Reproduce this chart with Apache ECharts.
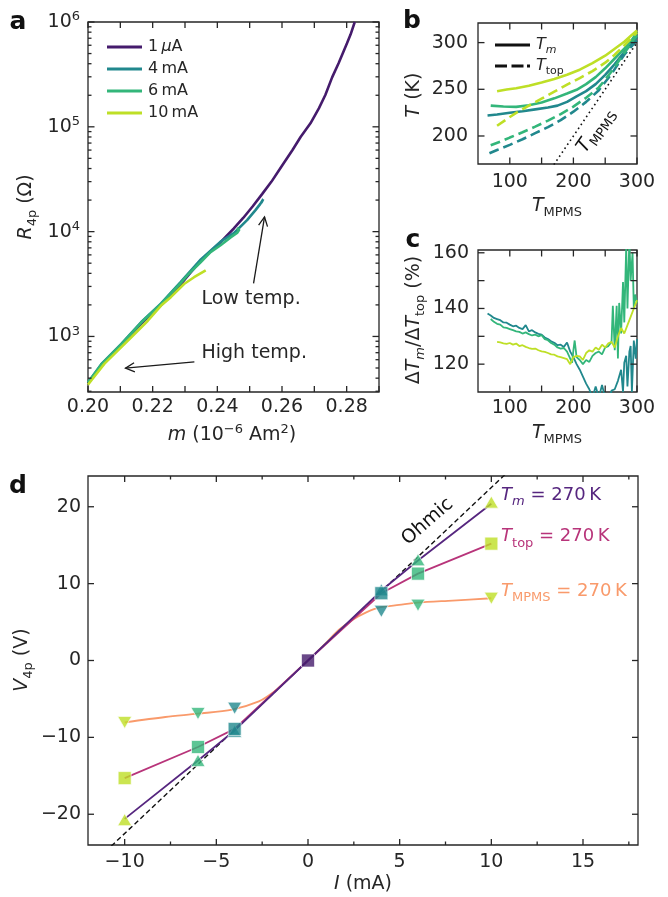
<!DOCTYPE html>
<html><head><meta charset="utf-8">
<script src="https://cdn.jsdelivr.net/npm/echarts@6/dist/echarts.min.js"></script>
<style>html,body{margin:0;padding:0;background:#fff}#c{width:668px;height:897px}</style>
</head><body><div id="c"></div>
<script>
// ================= DATA =================
// Panel a: R_4p vs m (m in 1e-6 Am^2, R in Ohm)
const aNames = ['1 μA', '4 mA', '6 mA', '10 mA'];
const a_m_1uA = [0.2000,0.2041,0.2103,0.2164,0.2226,0.2287,0.2349,0.2410,0.2451,0.2480,0.2509,0.2539,0.2567,0.2601,0.2632,0.2658,0.2688,0.2714,0.2734,0.2755,0.2775,0.2801,0.2812,0.2825];
const a_R_1uA = [355,525,822,1318,1995,3162,5309,7943,10715,13500,17378,22909,29854,43053,59841,80353,107895,149968,200909,296483,403645,626614,758578,1000000];
const a_m_4mA = [0.2000,0.2041,0.2103,0.2164,0.2226,0.2287,0.2349,0.2410,0.2451,0.2492,0.2518,0.2533,0.2542,0.2536];
const a_R_4mA = [363,543,851,1365,2065,3311,5433,8035,9661,12882,16032,18408,20417,18836];
const a_m_6mA = [0.2000,0.2041,0.2103,0.2164,0.2226,0.2287,0.2308,0.2349,0.2379,0.2410,0.2441,0.2462,0.2468,0.2460];
const a_R_6mA = [363,537,841,1349,2042,3236,3846,5129,6383,7413,8810,9772,10471,10715];
const a_m_10mA = [0.2000,0.2010,0.2051,0.2092,0.2133,0.2185,0.2226,0.2256,0.2297,0.2328,0.2364];
const a_R_10mA = [347,380,550,733,977,1413,1972,2371,3162,3673,4266];

// Panel b: T vs T_MPMS
const b_T_10 = [80,95,110,130,150,170,190,210,230,250,265,280,290,300];
const b_Tm_10 = [248,249.8,251.2,253.8,257.2,261,265.5,271,278,286,293.5,301,307,313];
const b_T_6 = [70,90,110,130,150,170,190,205,220,235,250,265,280,290,300];
const b_Tm_6 = [232.5,231.5,231.2,233,235.8,240.3,245.5,249.5,255.5,263,272.5,283,293.5,301,311];
const b_T_4 = [65,80,100,120,140,160,175,190,205,220,235,250,265,280,290,300];
const b_Tm_4 = [222,223,224.8,226.5,228.5,230.5,232.5,236.5,242.5,248,255.5,265.5,277,290,297.5,306];
const b_Tt_T_10 = [80,95,110,130,150,170,190,210,230,250,265,280,290,300];
const b_Ttop_10 = [211,218,224.8,232.5,240,247.5,255,262,269.5,278.5,287,297,304,311];
const b_Tt_T_6 = [70,85,100,120,140,160,180,200,220,240,260,280,290,300];
const b_Ttop_6 = [190,194,198.3,204,210,216.5,223.5,231.5,241,252,269,289,298.5,308];
const b_Tt_T_4 = [68,80,100,120,140,160,180,200,220,240,260,280,290,300];
const b_Ttop_4 = [181.5,185,190.5,196.5,203,209.5,217,226,236.5,249,266.5,287,295,302.5];
const b_diag = [165, 300];

// Panel c: dTm/dTtop (%) vs T_MPMS
const c_T_4 = [65,70,75,80,85,90,95,100,105,110,115,120,125,130,135,140,145,150,155,160,165,170,175,180,185,190,195,200,205,210,215,220,225,230,235,240,245,250,255,260,265,270,275,278,280,283,285,288,290,292,295,298,300];
const c_V_4 = [138.2,137.5,136.6,136.2,135.8,135.0,134.9,134.2,133.6,133.8,133.0,132.6,134.0,131.8,132.2,131.4,130.9,130.6,129.6,129.0,128.2,127.7,126.8,127.0,126.2,127.8,124.5,122.5,120.0,118.0,115.5,113.0,111.0,108.0,112.0,108.0,112.5,108.0,107.0,110.5,111.0,114.0,118.0,110.0,120.5,123.0,112.0,124.5,126.5,110.0,128.5,122.0,129.0];
const c_T_6 = [70,75,80,85,90,95,100,105,110,115,120,125,130,135,140,145,150,155,160,165,170,175,180,185,190,195,198,200,202,205,210,215,220,225,230,235,240,245,250,255,260,262,265,268,270,272,275,278,280,283,285,288,290,293,295,297,300];
const c_V_6 = [136.2,135.2,134.5,134.2,133.2,133.0,132.6,132.2,131.8,131.6,131.0,131.4,130.8,130.3,130.6,130.0,130.4,129.0,128.6,127.6,127.0,126.0,125.6,125.8,124.5,122.0,120.5,125.0,128.5,122.5,121.5,120.0,121.5,120.8,123.0,124.0,124.5,123.5,126.0,126.5,128.0,141.0,125.0,141.0,122.0,142.0,131.0,149.5,135.0,162.0,140.0,165.0,150.0,160.0,140.0,145.0,142.0];
const c_T_10 = [80,85,90,95,100,105,110,115,120,125,130,135,140,145,150,155,160,165,170,175,180,185,190,195,200,205,210,215,220,225,230,235,240,245,250,255,260,265,270,275,280,285,290,295,300];
const c_V_10 = [128.0,127.8,127.5,127.3,127.6,127.0,127.4,126.5,126.8,126.2,125.8,125.5,125.6,125.0,124.6,124.4,124.0,123.5,123.4,122.8,122.5,122.2,121.8,120.0,122.5,123.0,122.8,121.5,124.0,125.0,124.5,126.0,125.2,127.0,126.0,127.5,128.0,126.0,130.0,133.0,131.0,134.0,137.0,140.0,143.0];

// Panel d: V_4p vs I (mA)
const d_I = [-10,-6,-4,4,6,10];
const d_cur = [10,6,4,4,6,10];
const d_V_Tm = [-20.7,-13.0,-9.2,9.2,13.1,20.6];
const d_V_Ttop = [-15.3,-11.25,-8.9,8.75,11.3,15.2];
const d_V_Tmpms = [-8.05,-6.9,-6.2,6.4,7.2,8.1];
const d_lineI = [-10,-6,-4,0,4,6,10];
const d_line_Tm = [-20.6,-13.0,-9.1,0,9.1,13.0,20.4];
const d_line_Ttop = [-15.3,-11.25,-8.9,0,8.75,11.3,15.2];
const d_curveI = [-10,-7.78,-6.01,-4.14,-2.68,-1.95,-1.22,-0.6,0,0.5,0.97,1.69,2.42,3.15,3.97,4.97,5.97,7.89,10];
const d_curveV = [-8.05,-7.35,-6.92,-6.4,-5.32,-4.24,-2.73,-1.35,0,1.15,2.26,4.0,5.28,6.23,6.93,7.23,7.53,7.8,8.1];
const d_ohmI = [-12, 12];
const d_ohmV = [-27, 27];
const d_zero = [0, 0];

// Tick values / labels
const aXLabels = [0.20,0.22,0.24,0.26,0.28];
const aXTicks = [0.20,0.21,0.22,0.23,0.24,0.25,0.26,0.27,0.28,0.29];
const aYDecades = [3,4,5,6];
const bcXTicks = [100,150,200,250,300];
const bcXLabels = [100,200,300];
const bYTicks = [200,250,300];
const cYTicks = [120,130,140,150,160];
const cYLabels = [120,140,160];
const dXMajor = [-10,-5,0,5,10,15];
const dXMinor = [-7.5,-2.5,2.5,7.5,12.5,17.5];
const dYTicks = [-20,-10,0,10,20];

// ================= STYLE =================
const F = 'DejaVu Sans';
const TC = '#262626';
const FRAME = '#262626';
const COL = {uA: '#451b6c', 4: '#21888d', 6: '#33b67a', 10: '#bedf26'};
const CD = {Tm: '#56267f', Ttop: '#b8347a', Tmpms: '#f99a6b'};

function rich(size, color) {
  const s = Math.round(size * 0.7);
  const base = {fontSize: size, fontFamily: F, color: color, fill: color};
  return {
    n: Object.assign({}, base),
    i: Object.assign({}, base, {fontStyle: 'italic'}),
    sb: {fontSize: s, fontFamily: F, color: color, fill: color, padding: [Math.round(size * 0.7), 0, 0, 0]},
    isb: {fontSize: s, fontFamily: F, color: color, fill: color, fontStyle: 'italic', padding: [Math.round(size * 0.7), 0, 0, 0]},
    sp: {fontSize: s, fontFamily: F, color: color, fill: color, padding: [0, 0, Math.round(size * 0.55), 0]}
  };
}
const minus = v => (v < 0 ? '\u2212' + Math.abs(v) : String(v));

function ax(grid, pos, min, max, labels, margin, fmt) {
  return {
    type: 'value', gridIndex: grid, position: pos, min: min, max: max,
    axisLine: {show: false, onZero: false},
    axisTick: {show: false},
    axisLabel: {show: true, customValues: labels, margin: margin, fontSize: 19, fontFamily: F, color: TC, formatter: fmt, hideOverlap: false},
    splitLine: {show: false}, minorTick: {show: false}, minorSplitLine: {show: false}, axisPointer: {show: false}
  };
}

// minor log ticks for panel a
const aYMinor = [];
[2,3,4,5].forEach(n => { for (let k = 2; k <= 9; k++) { const v = Math.log10(k * Math.pow(10, n)); if (v >= 2.47) aYMinor.push(v); } });

const ext = [
  {x: [0.20, 0.29], y: [2.47, 6]},
  {x: [50, 300], y: [170, 321]},
  {x: [50, 300], y: [110, 161]},
  {x: [-12, 18], y: [-24, 24]}
];
const grids = [
  {left: 88, top: 22, width: 291, height: 370},
  {left: 478, top: 23, width: 159, height: 141},
  {left: 478, top: 250, width: 159, height: 142},
  {left: 88, top: 476, width: 550, height: 369}
].map(g => Object.assign(g, {containLabel: false, outerBoundsMode: 'none', show: true, borderColor: FRAME, borderWidth: 1.3, backgroundColor: 'transparent'}));

const aYAxis = ax(0, 'left', ext[0].y[0], ext[0].y[1], aYDecades, 8, v => '{n|10}{sp|' + Math.round(v) + '}');
aYAxis.axisLabel.rich = rich(19, TC);
const xAxes = [
  ax(0, 'bottom', ext[0].x[0], ext[0].x[1], aXLabels, 6, v => v.toFixed(2)),
  ax(1, 'bottom', ext[1].x[0], ext[1].x[1], bcXLabels, 9, v => String(v)),
  ax(2, 'bottom', ext[2].x[0], ext[2].x[1], bcXLabels, 7, v => String(v)),
  ax(3, 'bottom', ext[3].x[0], ext[3].x[1], dXMajor, 8, minus)
];
const yAxes = [
  aYAxis,
  ax(1, 'left', ext[1].y[0], ext[1].y[1], bYTicks, 10, v => String(v)),
  ax(2, 'left', ext[2].y[0], ext[2].y[1], cYLabels, 9, v => String(v)),
  ax(3, 'left', ext[3].y[0], ext[3].y[1], dYTicks, 7, minus)
];

const zip = (xs, ys) => xs.map((x, i) => [x, ys[i]]);
const series = [];
function line(name, gi, data, color, width, type, extra) {
  const s = {type: 'line', name: name, xAxisIndex: gi, yAxisIndex: gi, data: data, showSymbol: false, symbol: 'none',
    lineStyle: {color: color, width: width, type: type || 'solid'}, itemStyle: {color: color}, silent: true, clip: true, z: 2};
  series.push(Object.assign(s, extra || {}));
  return s;
}

// ---- panel a ----
const logz = (ms, rs) => ms.map((m, i) => [m, Math.log10(rs[i])]);
line('1 μA', 0, logz(a_m_1uA, a_R_1uA), COL.uA, 2.6);
line('4 mA', 0, logz(a_m_4mA, a_R_4mA), COL[4], 2.6);
line('6 mA', 0, logz(a_m_6mA, a_R_6mA), COL[6], 2.6);
line('10 mA', 0, logz(a_m_10mA, a_R_10mA), COL[10], 2.6);

// ---- panel b ----
line('b4s', 1, zip(b_T_4, b_Tm_4), COL[4], 2.6);
line('b6s', 1, zip(b_T_6, b_Tm_6), COL[6], 2.6);
line('b10s', 1, zip(b_T_10, b_Tm_10), COL[10], 2.6);
line('b4d', 1, zip(b_Tt_T_4, b_Ttop_4), COL[4], 2.6, [10, 5]);
line('b6d', 1, zip(b_Tt_T_6, b_Ttop_6), COL[6], 2.6, [10, 5]);
line('b10d', 1, zip(b_Tt_T_10, b_Ttop_10), COL[10], 2.6, [10, 5]);
line('diag', 1, zip(b_diag, b_diag), '#111', 1.6, [1.6, 3.2]);
line('Tm', 1, [], '#111', 2.6);
line('Ttop', 1, [], '#111', 2.6, [10, 5]);

// ---- panel c ----
line('c4', 2, zip(c_T_4, c_V_4), COL[4], 1.8);
line('c6', 2, zip(c_T_6, c_V_6), COL[6], 1.8);
line('c10', 2, zip(c_T_10, c_V_10), COL[10], 1.8);

// ---- panel d ----
line('ohm', 3, zip(d_ohmI, d_ohmV), '#111', 1.4, [5, 3]);
line('dTmpms', 3, zip(d_curveI, d_curveV), CD.Tmpms, 1.8, 'solid', {smooth: 0.3});
line('dTtop', 3, zip(d_lineI, d_line_Ttop), CD.Ttop, 1.8);
line('dTm', 3, zip(d_lineI, d_line_Tm), CD.Tm, 1.8);
function markers(name, vs, symbol, size, rot) {
  series.push({type: 'scatter', name: name, xAxisIndex: 3, yAxisIndex: 3, symbol: symbol, symbolSize: size, symbolRotate: rot || 0,
    silent: true, z: 3,
    data: d_I.map((x, i) => ({value: [x, vs[i]], itemStyle: {color: COL[d_cur[i]], borderColor: '#fff', borderWidth: 0.8}}))});
}
markers('mTmpms', d_V_Tmpms, 'triangle', [14, 12], 180);
markers('mTm', d_V_Tm, 'triangle', [14, 12], 0);
markers('mTtop', d_V_Ttop, 'rect', 13, 0);
series.push({type: 'scatter', name: 'zero', xAxisIndex: 3, yAxisIndex: 3, symbol: 'rect', symbolSize: 13, silent: true, z: 3,
  data: [{value: d_zero, itemStyle: {color: COL.uA, borderColor: '#fff', borderWidth: 0.8}}]});

const r16 = rich(16, TC);
const legends = [
  {show: true, orient: 'vertical', left: 102, top: 34, itemWidth: 35, itemHeight: 3, itemGap: 6, icon: 'rect', selectedMode: false,
    data: aNames,
    formatter: n => (n === '1 μA' ? '{n|1\u2009}{i|μ}{n|A}' : '{n|' + n.replace(' ', '\u2009') + '}'),
    textStyle: {fontSize: 16, fontFamily: F, color: TC, rich: r16, padding: [0, 0, 0, 1]}},
  {show: true, orient: 'vertical', left: 490, top: 32, itemWidth: 35, itemHeight: 3, itemGap: 2, selectedMode: false,
    data: [{name: 'Tm', icon: 'rect'}, {name: 'Ttop', icon: 'path://M0 0H12V3H0Z M16.5 0H28.5V3H16.5Z M32 0H35V3H32Z'}],
    formatter: n => (n === 'Tm' ? '{i|T}{isb|m}' : '{i|T}{sb|top}'),
    textStyle: {fontSize: 16, fontFamily: F, color: TC, rich: r16, padding: [0, 0, 0, 1]}}
];

const chart = echarts.init(document.getElementById('c'), null, {renderer: 'canvas', width: 668, height: 897});
chart.setOption({
  animation: false, backgroundColor: '#fff',
  grid: grids, xAxis: xAxes, yAxis: yAxes, legend: legends, series: series
});

// ================= TICKS, TEXT, ANNOTATIONS =================
const P = (gi, pt) => chart.convertToPixel({xAxisIndex: gi, yAxisIndex: gi}, pt);
function ticks(gi, xList, yList) {
  const e = ext[gi];
  const bl = P(gi, [e.x[0], e.y[0]]), tr = P(gi, [e.x[1], e.y[1]]);
  const out = [];
  const st = () => ({stroke: FRAME, lineWidth: 1.3});
  xList.forEach(t => t.vals.forEach(v => {
    const x = P(gi, [v, e.y[0]])[0];
    out.push({type: 'line', silent: true, z: 40, shape: {x1: x, y1: bl[1], x2: x, y2: bl[1] - t.len}, style: st()});
    out.push({type: 'line', silent: true, z: 40, shape: {x1: x, y1: tr[1], x2: x, y2: tr[1] + t.len}, style: st()});
  }));
  yList.forEach(t => t.vals.forEach(v => {
    const y = P(gi, [e.x[0], v])[1];
    out.push({type: 'line', silent: true, z: 40, shape: {x1: bl[0], y1: y, x2: bl[0] + t.len, y2: y}, style: st()});
    out.push({type: 'line', silent: true, z: 40, shape: {x1: tr[0], y1: y, x2: tr[0] - t.len, y2: y}, style: st()});
  }));
  return out;
}
function txt(x, y, text, size, color, opts) {
  opts = opts || {};
  return {type: 'text', x: x, y: y, rotation: opts.rot || 0, silent: true, z: 50,
    style: {text: text, rich: rich(size, color), fontSize: size, fontFamily: F, fill: color,
      fontWeight: opts.bold ? 'bold' : 'normal', align: opts.align || 'center', verticalAlign: 'middle'}};
}
function arrow(tail, head) {
  const t = P(0, tail), h = P(0, head);
  const dx = h[0] - t[0], dy = h[1] - t[1], L = Math.hypot(dx, dy);
  const ux = dx / L, uy = dy / L, px = -uy, py = ux;
  const hl = 9, hw = 4.5;
  return [
    {type: 'line', silent: true, z: 50, shape: {x1: t[0], y1: t[1], x2: h[0], y2: h[1]}, style: {stroke: '#1a1a1a', lineWidth: 1.3}},
    {type: 'polyline', silent: true, z: 50, shape: {points: [
      [h[0] - hl * ux + hw * px, h[1] - hl * uy + hw * py], [h[0], h[1]], [h[0] - hl * ux - hw * px, h[1] - hl * uy - hw * py]]},
      style: {stroke: '#1a1a1a', lineWidth: 1.3, fill: null}}
  ];
}
const R90 = Math.PI / 2;
const lowPos = P(0, [0.2351, 3.354]);
const highPos = P(0, [0.2351, 2.839]);
const mpmsPos = P(1, [235, 206]);
const ohmPos = P(3, [6.52, 18.05]);
const lTm = P(3, [10.53, 21.5]);
const lTtop = P(3, [10.53, 16.1]);
const lTmpms = P(3, [10.53, 8.96]);

const graphics = [
  txt(18, 22, 'a', 25, '#111', {bold: true}),
  txt(412, 21, 'b', 25, '#111', {bold: true}),
  txt(413, 240, 'c', 25, '#111', {bold: true}),
  txt(18, 486, 'd', 25, '#111', {bold: true}),
  txt(26, 207, '{i|R}{sb|4p}{n| (Ω)}', 19, TC, {rot: R90}),
  txt(232, 435, '{i|m}{n| (10}{sp|\u22126}{n| Am}{sp|2}{n|)}', 19, TC),
  txt(414, 95, '{i|T}{n| (K)}', 19, TC, {rot: R90}),
  txt(557, 206, '{i|T}{sb|MPMS}', 19, TC),
  txt(414, 320, '{n|Δ}{i|T}{isb|m}{n|/Δ}{i|T}{sb|top}{n| (%)}', 19, TC, {rot: R90}),
  txt(557, 433, '{i|T}{sb|MPMS}', 19, TC),
  txt(22, 660, '{i|V}{sb|4p}{n| (V)}', 19, TC, {rot: R90}),
  txt(363, 884, '{i|I}{n| (mA)}', 19, TC),
  txt(lowPos[0], lowPos[1], '{n|Low temp.}', 19, TC, {align: 'left'}),
  txt(highPos[0], highPos[1], '{n|High temp.}', 19, TC, {align: 'left'}),
  txt(mpmsPos[0], mpmsPos[1], '{i|T}{sb|MPMS}', 19, '#111', {rot: 55 * Math.PI / 180}),
  txt(ohmPos[0], ohmPos[1], '{n|Ohmic}', 19, '#111', {rot: 41 * Math.PI / 180}),
  txt(lTm[0], lTm[1], '{i|T}{isb|m}{n| = 270\u2009K}', 18, CD.Tm, {align: 'left'}),
  txt(lTtop[0], lTtop[1], '{i|T}{sb|top}{n| = 270\u2009K}', 18, CD.Ttop, {align: 'left'}),
  txt(lTmpms[0], lTmpms[1], '{i|T}{sb|MPMS}{n| = 270\u2009K}', 18, CD.Tmpms, {align: 'left'})
].concat(
  arrow([0.2512, 3.507], [0.2546, 4.14]), arrow([0.2329, 2.757], [0.2116, 2.698]),
  ticks(0, [{vals: aXTicks, len: 6}], [{vals: aYDecades, len: 6.5}, {vals: aYMinor, len: 3.5}]),
  ticks(1, [{vals: bcXTicks, len: 6.5}], [{vals: bYTicks, len: 6.5}]),
  ticks(2, [{vals: bcXTicks, len: 6.5}], [{vals: cYTicks, len: 6.5}]),
  ticks(3, [{vals: dXMajor, len: 6}, {vals: dXMinor, len: 3.5}], [{vals: dYTicks, len: 6}])
);
chart.setOption({graphic: graphics});
</script>
</body></html>
